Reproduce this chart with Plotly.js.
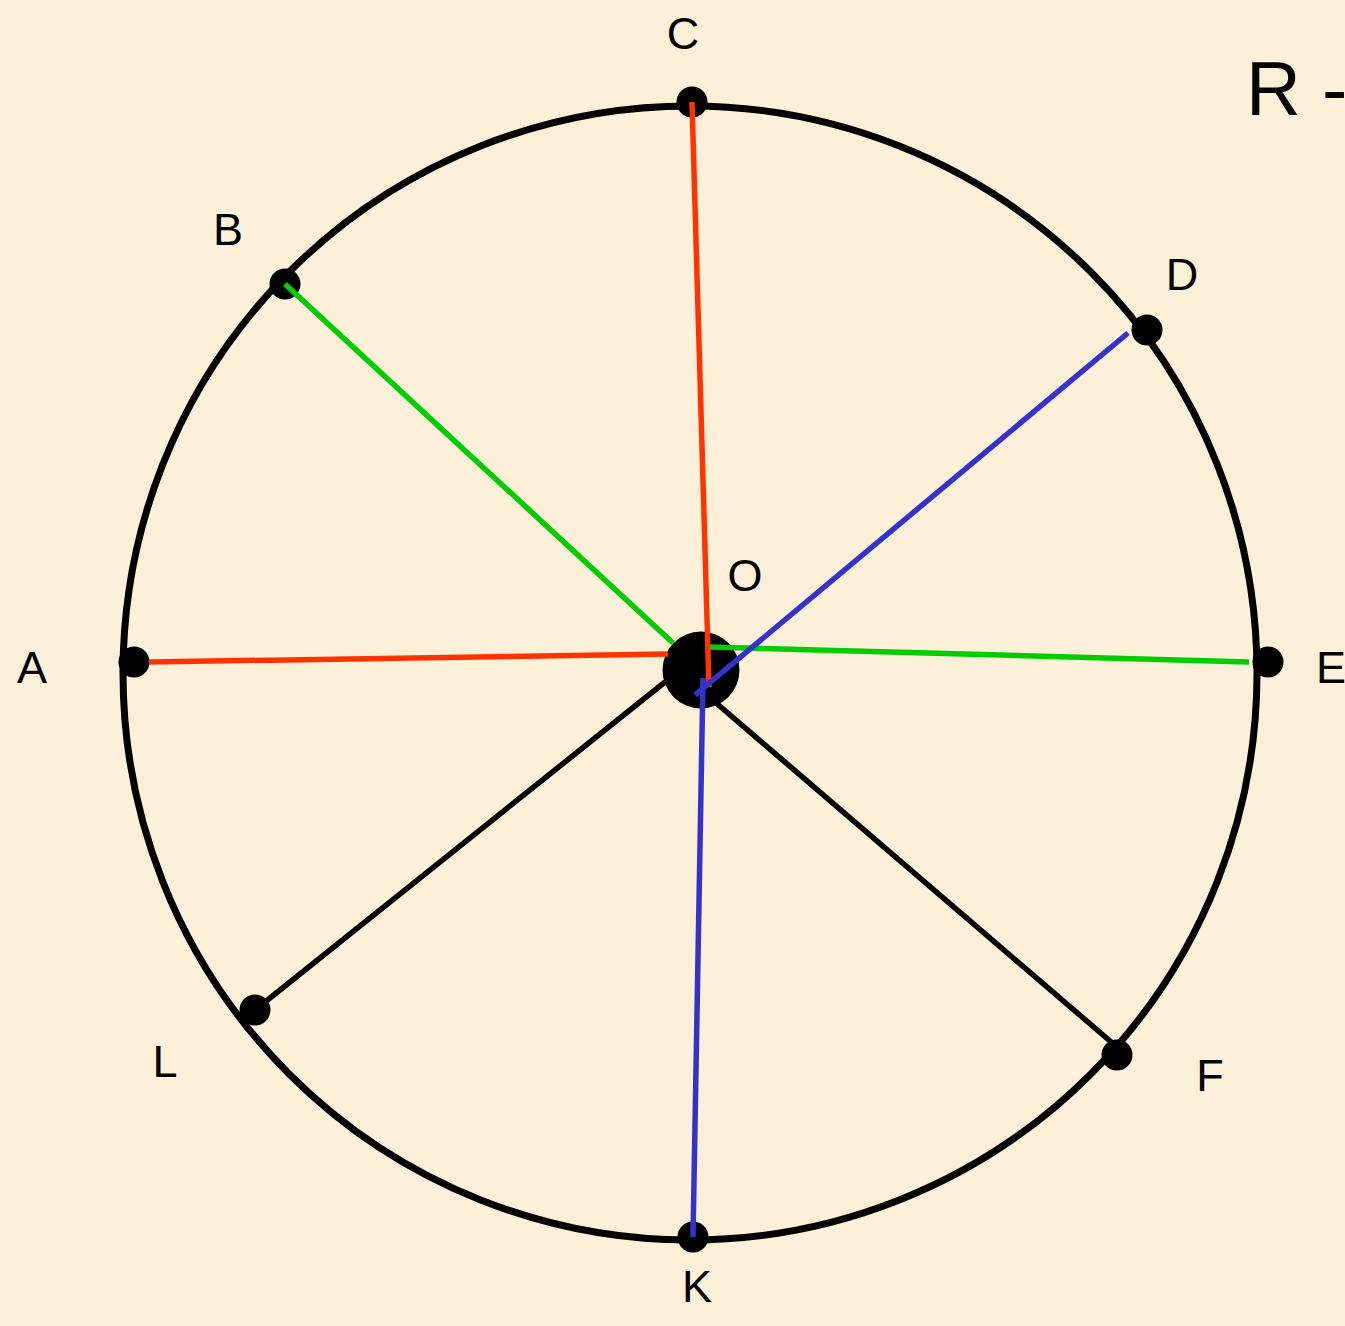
<!DOCTYPE html>
<html>
<head>
<meta charset="utf-8">
<script src="https://cdn.plot.ly/plotly-3.0.1.min.js"></script>
<style>html,body{margin:0;padding:0;background:#fdf0d8;}#chart{width:1345px;height:1326px;}</style>
</head>
<body>
<div id="chart"></div>
<script>
// Points on the circle (diagram coordinates)
const pointNames = ['A','B','C','D','E','F','K','L'];
const pointX = [134, 285, 692, 1147, 1268, 1117, 693, 255];
const pointY = [662, 284, 102, 330, 662, 1055, 1237, 1010];

// Segments from the circle points toward the centre O
const segStartX = [149, 692, 285, 1249, 1128, 693, 255, 1117];
const segStartY = [662, 102, 284, 662, 333, 1237, 1010, 1047];
const segEndX   = [668, 709, 673, 710, 695, 703, 665, 715];
const segEndY   = [654, 687, 643, 647, 695, 678, 682, 702];
const segColor  = ['#ff3300','#ff3300','#00cc00','#00cc00','#3333cc','#3333cc','#000000','#000000'];

// Centre O
const centreX = [701];
const centreY = [670];

// Circle
const circleCX = 690, circleCY = 673, circleR = 567;

// Labels
const labelText = ['C','B','D','O','A','E','L','F','K'];
const labelX = [683, 228, 1182, 745, 32, 1331, 165, 1210, 697];
const labelY = [38, 234, 279, 580, 672, 672, 1066, 1080, 1291];

const traces = [];
traces.push({
  type: 'scatter', mode: 'markers', x: pointX, y: pointY, text: pointNames,
  marker: {color: '#000', size: 31}, showlegend: false, hoverinfo: 'text'
});
traces.push({
  type: 'scatter', mode: 'markers', x: centreX, y: centreY,
  marker: {color: '#000', size: 77}, showlegend: false, hoverinfo: 'skip'
});
for (let i = 0; i < segStartX.length; i++) {
  traces.push({
    type: 'scatter', mode: 'lines',
    x: [segStartX[i], segEndX[i]], y: [segStartY[i], segEndY[i]],
    line: {color: segColor[i], width: 5.5}, hoverinfo: 'skip', showlegend: false
  });
}
traces.push({
  type: 'scatter', mode: 'text', x: labelX, y: labelY, text: labelText,
  textfont: {family: 'Liberation Sans, Arial, sans-serif', size: 45, color: '#000'},
  textposition: 'middle center', showlegend: false, hoverinfo: 'skip'
});

const layout = {
  width: 1345, height: 1326,
  margin: {l: 0, r: 0, t: 0, b: 0},
  paper_bgcolor: '#fdf0d8', plot_bgcolor: '#fdf0d8',
  xaxis: {range: [0, 1345], visible: false, fixedrange: true},
  yaxis: {range: [1326, 0], visible: false, fixedrange: true},
  shapes: [{
    type: 'circle', xref: 'x', yref: 'y', layer: 'below',
    x0: circleCX - circleR, x1: circleCX + circleR,
    y0: circleCY - circleR, y1: circleCY + circleR,
    line: {color: '#000', width: 7}
  }],
  annotations: [{
    xref: 'x', yref: 'y', x: 1244, y: 88, xanchor: 'left', yanchor: 'middle',
    text: 'R -', showarrow: false,
    font: {family: 'Liberation Sans, Arial, sans-serif', size: 76, color: '#000'}
  }]
};
Plotly.newPlot('chart', traces, layout, {displayModeBar: false, staticPlot: true});
</script>
</body>
</html>
